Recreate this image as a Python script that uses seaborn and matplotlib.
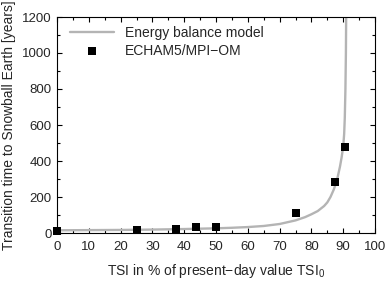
import pandas as pd
import matplotlib
matplotlib.use("Agg")
import matplotlib.pyplot as plt
import seaborn as sns
from matplotlib.ticker import MultipleLocator

# Energy balance model curve
ebm_tsi = [0, 10, 20, 30, 40, 50, 55, 60, 65, 70, 75, 78, 80, 82, 84, 85, 86,
           87, 88, 89, 89.5, 90, 90.3, 90.5, 90.7, 90.85, 90.95]
ebm_time = [15, 16, 17, 19, 22, 26, 29, 33, 39, 50, 70, 88, 104, 122, 150, 170, 200,
            240, 290, 370, 420, 480, 550, 640, 800, 1000, 1250]

# ECHAM5/MPI-OM runs
gcm_tsi = [0, 25, 37.5, 43.75, 50, 75, 87.5, 90.6]
gcm_time = [13, 17, 24, 31, 35, 110, 283, 480]

ebm = pd.DataFrame({"tsi": ebm_tsi, "time": ebm_time})
gcm = pd.DataFrame({"tsi": gcm_tsi, "time": gcm_time})

sns.set_style("ticks")
plt.rcParams["font.family"] = ["Liberation Sans", "DejaVu Sans"]
plt.rcParams["mathtext.fontset"] = "custom"
plt.rcParams["mathtext.rm"] = "Liberation Sans"

fig = plt.figure(figsize=(3.86, 2.81), dpi=100)
ax = fig.add_axes([57 / 386, 48 / 281, 318 / 386, 216 / 281])

sns.lineplot(data=ebm, x="tsi", y="time", color="#b4b4b4", linewidth=1.7,
             ax=ax, label="Energy balance model")
sns.scatterplot(data=gcm, x="tsi", y="time", marker="s", s=40, color="black",
                edgecolor="black", linewidth=0, ax=ax, label="ECHAM5/MPI\u2212OM",
                zorder=3, clip_on=False)

ax.set_xlim(0, 100)
ax.set_ylim(0, 1200)
ax.xaxis.set_major_locator(MultipleLocator(10))
ax.xaxis.set_minor_locator(MultipleLocator(5))
ax.yaxis.set_major_locator(MultipleLocator(200))
ax.yaxis.set_minor_locator(MultipleLocator(100))
ax.tick_params(which="both", direction="in", top=True, right=True,
               labelsize=9.5, width=0.8, color="black")
ax.tick_params(which="major", length=3.5, pad=4)
ax.tick_params(axis="x", which="major", pad=6)
ax.tick_params(which="minor", length=2)
for s in ax.spines.values():
    s.set_linewidth(0.8)
    s.set_color("black")

ax.set_xlabel("TSI in % of present\u2212day value TSI$_0$", fontsize=10, labelpad=6)
ax.set_ylabel("Transition time to Snowball Earth [years]", fontsize=10, labelpad=4)

ax.legend(loc="upper left", bbox_to_anchor=(0.04, 0.96), frameon=False,
          fontsize=10, handlelength=3.2, handletextpad=0.8, labelspacing=0.3,
          borderpad=0, borderaxespad=0)

fig.savefig("out.png", dpi=100)
